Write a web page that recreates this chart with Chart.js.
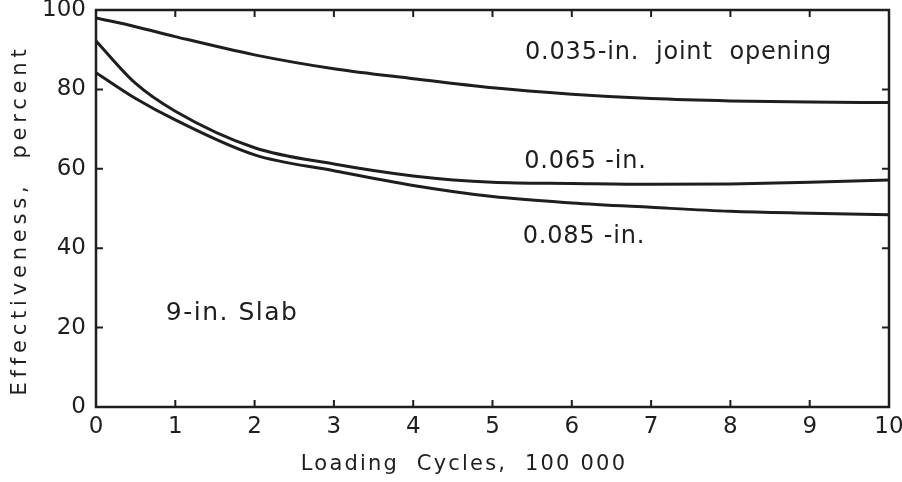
<!DOCTYPE html>
<html>
<head>
<meta charset="utf-8">
<script src="https://cdn.jsdelivr.net/npm/chart.js@4/dist/chart.umd.min.js"></script>
<style>
  html, body { margin: 0; padding: 0; background: #fff; }
  #wrap { width: 902px; height: 482px; }
</style>
</head>
<body>
<div id="wrap"><canvas id="chart"></canvas></div>
<script>
// values
const cycles = [0, 0.5, 1, 2, 3, 4, 5, 6, 7, 8, 9, 10];
const open035 = [98, 95.8, 93.3, 88.7, 85.2, 82.7, 80.4, 78.8, 77.7, 77.1, 76.8, 76.7];
const open065 = [92.2, 81.5, 74.5, 65.3, 61.2, 58.2, 56.6, 56.3, 56.1, 56.2, 56.6, 57.2];
const open085 = [84.2, 77.7, 72.3, 63.5, 59.5, 55.8, 53.0, 51.4, 50.3, 49.3, 48.8, 48.4];
const xTicks = [0, 1, 2, 3, 4, 5, 6, 7, 8, 9, 10];
const yTicks = [0, 20, 40, 60, 80, 100];

const ink = '#1e1e1e';
const font = '"DejaVu Sans", sans-serif';

function series(ys) {
    return cycles.map((c, i) => ({ x: c, y: ys[i] }));
}

function lineSet(label, ys) {
    return {
        label: label,
        data: series(ys),
        borderColor: ink,
        borderWidth: 3,
        pointRadius: 0,
        fill: false,
        cubicInterpolationMode: 'monotone'
    };
}

// frame, inward ticks, text labels, axis titles
const decor = {
    id: 'decor',
    afterDraw(chart) {
        const ctx = chart.ctx;
        const a = chart.chartArea;
        const sx = chart.scales.x, sy = chart.scales.y;
        ctx.save();
        ctx.strokeStyle = ink;
        ctx.lineWidth = 2.5;
        ctx.strokeRect(a.left, a.top, a.right - a.left, a.bottom - a.top);

        ctx.lineWidth = 2;
        ctx.beginPath();
        xTicks.forEach(v => {
            const px = sx.getPixelForValue(v);
            ctx.moveTo(px, a.bottom); ctx.lineTo(px, a.bottom - 7);
            ctx.moveTo(px, a.top); ctx.lineTo(px, a.top + 7);
        });
        yTicks.forEach(v => {
            const py = sy.getPixelForValue(v);
            ctx.moveTo(a.left, py); ctx.lineTo(a.left + 7, py);
            ctx.moveTo(a.right, py); ctx.lineTo(a.right - 7, py);
        });
        ctx.stroke();

        ctx.fillStyle = ink;
        ctx.textBaseline = 'middle';
        ctx.textAlign = 'left';
        ctx.font = '24px ' + font;
        ctx.letterSpacing = '0.8px';
        ctx.fillText('0.035-in.  joint  opening', sx.getPixelForValue(5.41), sy.getPixelForValue(89.3));
        ctx.fillText('0.065 -in.', sx.getPixelForValue(5.4), sy.getPixelForValue(61.8));
        ctx.fillText('0.085 -in.', sx.getPixelForValue(5.38), sy.getPixelForValue(43));
        ctx.font = '25px ' + font;
        ctx.letterSpacing = '1.5px';
        ctx.fillText('9-in. Slab', sx.getPixelForValue(0.88), sy.getPixelForValue(23.5));

        // axis titles
        ctx.font = '21px ' + font;
        ctx.letterSpacing = '2.2px';
        ctx.textAlign = 'center';
        ctx.fillText('Loading  Cycles,  100 000', 464, 465);

        ctx.translate(21, 220);
        ctx.rotate(-Math.PI / 2);
        ctx.font = '21px ' + font;
        ctx.letterSpacing = '4.8px';
        ctx.fillText('Effectiveness,  percent', 0, 0);
        ctx.restore();
    }
};

new Chart(document.getElementById('chart').getContext('2d'), {
    type: 'line',
    data: {
        datasets: [
            lineSet('0.035-in.', open035),
            lineSet('0.065-in.', open065),
            lineSet('0.085-in.', open085)
        ]
    },
    options: {
        responsive: true,
        maintainAspectRatio: false,
        animation: false,
        layout: { padding: { left: 0, right: 13, top: 10, bottom: 0 } },
        plugins: { legend: { display: false }, tooltip: { enabled: false } },
        scales: {
            x: {
                type: 'linear', min: 0, max: 10,
                afterBuildTicks: s => { s.ticks = xTicks.map(v => ({ value: v })); },
                ticks: { color: ink, font: { family: font, size: 23 }, padding: 6, maxRotation: 0 },
                grid: { display: false, drawTicks: false },
                border: { display: false },
                afterFit: s => { s.height = 75; s.paddingLeft = 0; s.paddingRight = 0; }
            },
            y: {
                min: 0, max: 100,
                afterBuildTicks: s => { s.ticks = yTicks.map(v => ({ value: v })); },
                ticks: { color: ink, font: { family: font, size: 23 }, padding: 10 },
                grid: { display: false, drawTicks: false },
                border: { display: false },
                afterFit: s => { s.width = 96; s.paddingTop = 0; s.paddingBottom = 0; }
            }
        }
    },
    plugins: [decor]
});
</script>
</body>
</html>
